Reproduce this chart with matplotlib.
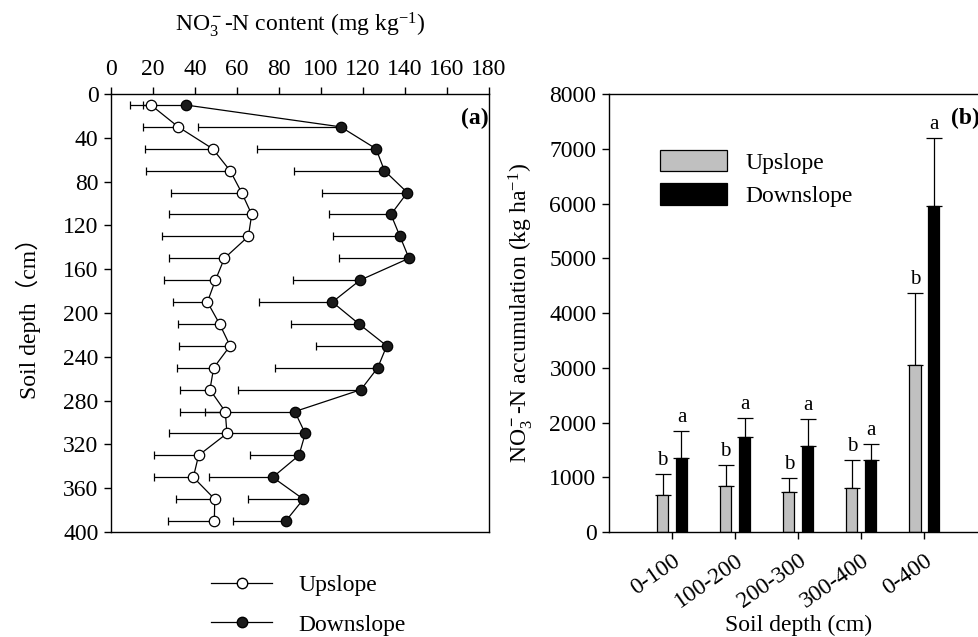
import numpy as np
import matplotlib
matplotlib.use("Agg")
from matplotlib import pyplot as plt
from matplotlib.lines import Line2D

plt.rcParams['font.family'] = ['Liberation Serif', 'Noto Sans CJK SC']
plt.rcParams['mathtext.fontset'] = 'custom'
plt.rcParams['mathtext.rm'] = 'Liberation Serif'
plt.rcParams['mathtext.it'] = 'Liberation Serif:italic'
plt.rcParams['mathtext.bf'] = 'Liberation Serif:bold'
plt.rcParams['font.size'] = 17
plt.rcParams['axes.linewidth'] = 1.0

# panel (a): NO3-N content profile
depth = [10, 30, 50, 70, 90, 110, 130, 150, 170, 190,
         210, 230, 250, 270, 290, 310, 330, 350, 370, 390]
up_mean = [19, 32, 48.4, 56.7, 62.2, 67, 65.4, 54, 49.7, 45.9,
           51.7, 56.7, 48.9, 47.1, 54.4, 55.2, 41.7, 39.2, 49.4, 49.2]
up_low = [9, 15, 16.3, 16.8, 28.4, 27.8, 24.4, 27.8, 25.4, 29.4,
          31.9, 32.4, 31.4, 32.7, 33, 27.6, 20.3, 20.3, 31, 27]
down_mean = [35.5, 109.4, 126.2, 130.2, 141.1, 133.3, 137.6, 141.9, 118.6, 105.4,
             118.1, 131.3, 127, 119, 87.5, 92.5, 89.5, 77, 91.6, 83.2]
down_low = [15, 41.3, 69.4, 87.1, 100.6, 103.8, 105.6, 108.6, 86.8, 70.5,
            85.6, 97.6, 78.3, 60.3, 44.6, 54.8, 66.3, 46.7, 65.4, 58]

# panel (b): NO3-N accumulation
layers = ['0-100', '100-200', '200-300', '300-400', '0-400']
up_acc = [671, 835, 738, 799, 3043]
up_acc_top = [1061, 1226, 982, 1311, 4366]
down_acc = [1360, 1732, 1567, 1317, 5954]
down_acc_top = [1841, 2091, 2067, 1616, 7192]
up_letters = ['b', 'b', 'b', 'b', 'b']
down_letters = ['a', 'a', 'a', 'a', 'a']

fig = plt.figure(figsize=(9.79, 6.37), dpi=100)
ax1 = fig.add_axes([0.1134, 0.1648, 0.3861, 0.6876])
ax2 = fig.add_axes([0.622, 0.1648, 0.3866, 0.6876])

up_err = np.array(up_mean) - np.array(up_low)
down_err = np.array(down_mean) - np.array(down_low)
zeros = np.zeros(len(depth))

ax1.errorbar(up_mean, depth, xerr=[up_err, zeros], fmt='none', ecolor='black',
             elinewidth=0.9, capsize=2.6, capthick=0.9, zorder=2)
ax1.errorbar(down_mean, depth, xerr=[down_err, zeros], fmt='none', ecolor='black',
             elinewidth=0.9, capsize=2.6, capthick=0.9, zorder=2)
ax1.plot(up_mean, depth, '-o', color='black', lw=0.9, ms=7.5,
         mfc='white', mec='black', mew=0.9, zorder=3, label='Upslope')
ax1.plot(down_mean, depth, '-o', color='black', lw=0.9, ms=7.5,
         mfc='#1a1a1a', mec='black', mew=0.9, zorder=3, label='Downslope')

ax1.set_xlim(0, 180)
ax1.set_ylim(400, 0)
ax1.set_xticks(np.arange(0, 181, 20))
ax1.set_yticks(np.arange(0, 401, 40))
ax1.xaxis.tick_top()
ax1.xaxis.set_label_position('top')
ax1.tick_params(axis='x', direction='out', length=5, width=1.0, pad=5)
ax1.tick_params(axis='y', direction='out', length=5, width=1.0, pad=4)
ax1.set_xlabel(r'NO$_3^{\bf -}$-N content (mg kg$^{-1}$)', labelpad=20)
ax1.set_ylabel('Soil depth（cm）', labelpad=16)
ax1.text(1.0, 0.945, '(a)', transform=ax1.transAxes, ha='right', va='center',
         fontweight='bold', fontsize=17)

leg_handles = [
    Line2D([], [], color='black', lw=0.9, marker='o', ms=7.5, mfc='white', mec='black'),
    Line2D([], [], color='black', lw=0.9, marker='o', ms=7.5, mfc='#1a1a1a', mec='black'),
]
fig.legend(leg_handles, ['Upslope', 'Downslope'], loc='center',
           bbox_to_anchor=(0.315, 0.05), frameon=False, handlelength=2.6,
           handletextpad=1.1, labelspacing=0.75, fontsize=17)

# panel (b)
x = np.arange(len(layers))
w = 0.18
off = 0.15
up_yerr = np.array(up_acc_top) - np.array(up_acc)
down_yerr = np.array(down_acc_top) - np.array(down_acc)
ax2.bar(x - off, up_acc, width=w, color='#c0c0c0', edgecolor='black', linewidth=0.9,
        label='Upslope', zorder=2)
ax2.bar(x + off, down_acc, width=w, color='black', edgecolor='black', linewidth=0.9,
        label='Downslope', zorder=2)
ax2.errorbar(x - off, up_acc, yerr=[np.zeros(len(x)), up_yerr], fmt='none',
             ecolor='black', elinewidth=0.9, capsize=5.5, capthick=0.9, zorder=1)
ax2.errorbar(x + off, down_acc, yerr=[np.zeros(len(x)), down_yerr], fmt='none',
             ecolor='black', elinewidth=0.9, capsize=5.5, capthick=0.9, zorder=1)
for i in range(len(x)):
    ax2.text(x[i] - off, up_acc_top[i] + 70, up_letters[i], ha='center', va='bottom',
             fontsize=15)
    ax2.text(x[i] + off, down_acc_top[i] + 70, down_letters[i], ha='center', va='bottom',
             fontsize=15)

ax2.set_xlim(-1, 5)
ax2.set_ylim(0, 8000)
ax2.set_yticks(np.arange(0, 8001, 1000))
ax2.set_xticks(x)
ax2.set_xticklabels(layers, rotation=35, ha='right', rotation_mode='anchor')
ax2.tick_params(axis='x', direction='out', length=5, width=1.0, pad=8)
ax2.tick_params(axis='y', direction='out', length=5, width=1.0, pad=4)
ax2.set_xlabel('Soil depth (cm)', labelpad=2)
ax2.set_ylabel(r'NO$_3^{\bf -}$-N accumulation (kg ha$^{-1}$)', labelpad=10)
ax2.text(0.905, 0.945, '(b)', transform=ax2.transAxes, ha='left', va='center',
         fontweight='bold', fontsize=17)
ax2.legend(loc='upper left', bbox_to_anchor=(0.08, 0.92), frameon=False,
           handlelength=2.8, handleheight=1.0, handletextpad=0.8,
           labelspacing=0.4, fontsize=17)

fig.savefig('out.png', dpi=100)
